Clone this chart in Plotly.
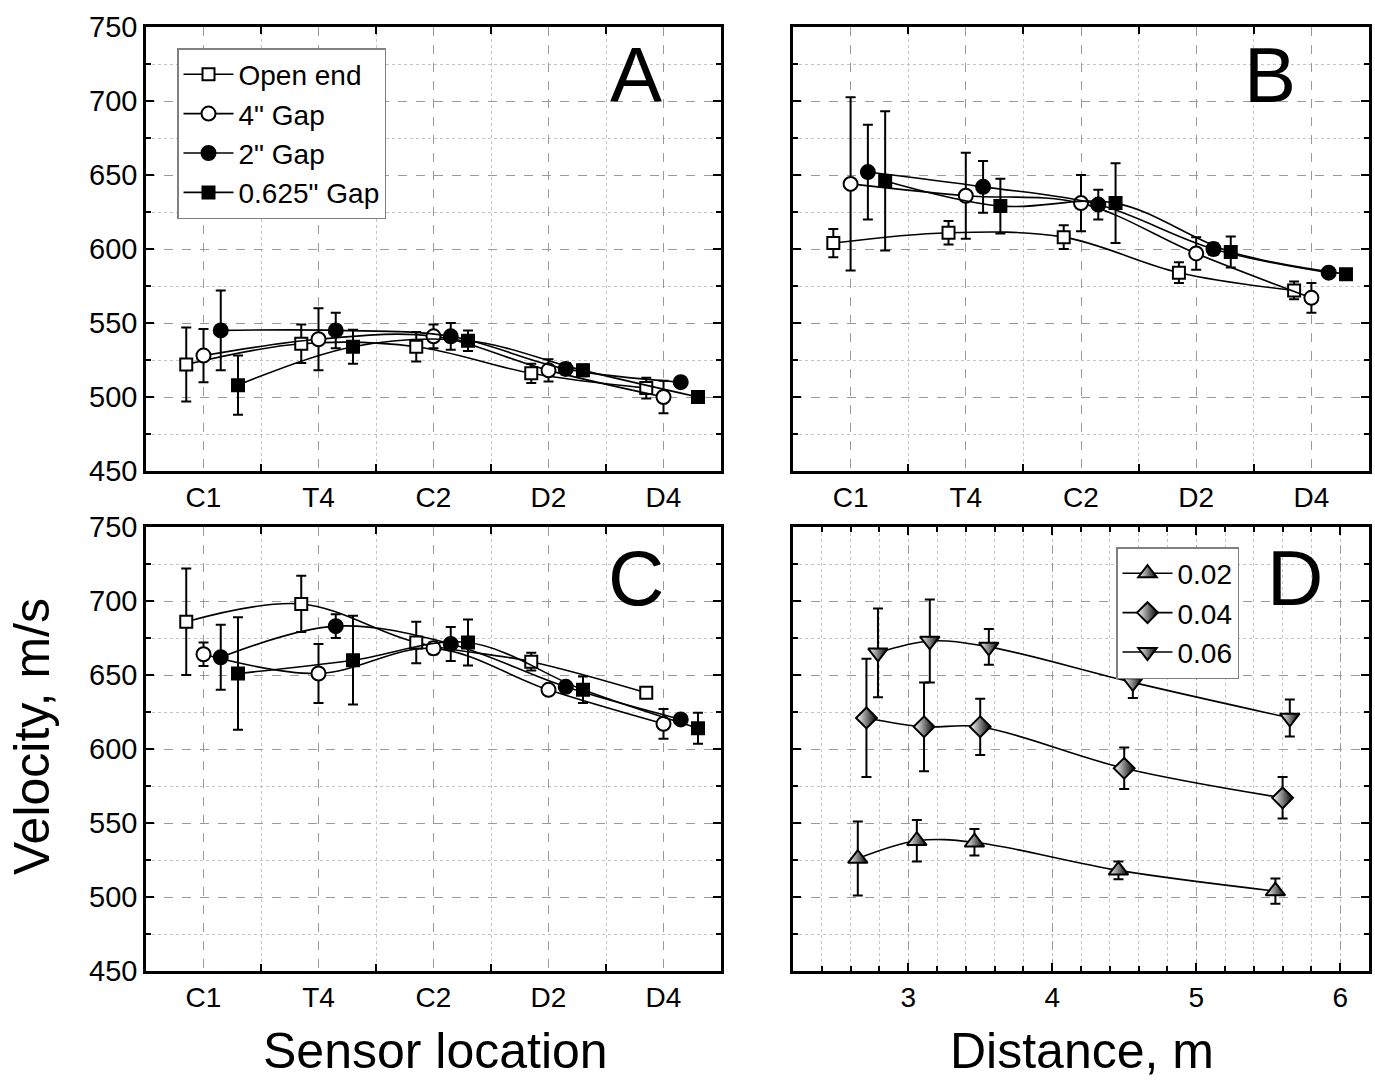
import plotly.graph_objects as go

# ---- data -------------------------------------------------------------
SENSORS = ["C1", "T4", "C2", "D2", "D4"]
SERIES = ['Open end', '4" Gap', '2" Gap', '0.625" Gap']
SERIES_SHIFT = [-0.15, 0.0, 0.15, 0.30]   # horizontal stagger of each series

# Panel A
A_OPEN = [522, 536, 534, 516, 506]
A_OPEN_ERR = [25, 13, 10, 6.5, 7]
A_GAP4 = [528, 539, 541, 518, 500]
A_GAP4_ERR = [18, 21, 8, 7.5, 11]
A_GAP2 = [545, 545, 541, 519, 510]
A_GAP2_ERR = [27, 12, 9, 4, 2]
A_GAP0625 = [508, 534, 538, 518, 500]
A_GAP0625_ERR = [20, 11.5, 7, 4, 4]

# Panel B
B_OPEN = [604, 611, 608, 584, 572]
B_OPEN_ERR = [9.5, 8, 8, 7, 6]
B_GAP4 = [644, 636, 631, 597, 567]
B_GAP4_ERR = [58.5, 29, 19, 11, 10]
B_GAP2 = [652, 642, 630, 600, 584]
B_GAP2_ERR = [32, 17.5, 10, 4, 2]
B_GAP0625 = [646, 629, 631, 598, 583]
B_GAP0625_ERR = [47, 18.5, 27, 10.5, 2]

# Panel C
C_OPEN = [686, 698, 672, 659, 638]
C_OPEN_ERR = [36, 19, 14, 6, 3]
C_GAP4 = [664, 651, 668, 640, 617]
C_GAP4_ERR = [8, 20, 4, 3, 10]
C_GAP2 = [662, 683, 671, 642, 620]
C_GAP2_ERR = [22, 8, 11.5, 3, 2]
C_GAP0625 = [651, 660, 672, 640, 614]
C_GAP0625_ERR = [38, 30, 15.5, 9, 10.5]

# Panel D (velocity vs distance)
D_LABELS = ["0.02", "0.04", "0.06"]
D_X_002 = [2.65, 3.06, 3.46, 4.46, 5.55]
D_V_002 = [526, 538, 537, 518, 504]
D_E_002 = [25, 14, 9, 6, 8.5]
D_X_004 = [2.71, 3.11, 3.50, 4.50, 5.60]
D_V_004 = [621, 615, 615, 587, 567]
D_E_004 = [40, 30, 19, 14, 14]
D_X_006 = [2.79, 3.15, 3.56, 4.56, 5.65]
D_V_006 = [665, 673, 669, 645, 621]
D_E_006 = [30, 28, 12, 10.5, 12.5]

# ---- styling ----------------------------------------------------------
FONT = "Liberation Sans, Arial, sans-serif"
W, H = 1375, 1082
SERIES_MARKERS = [
    dict(symbol="square", size=12, color="white", line=dict(color="black", width=2)),
    dict(symbol="circle", size=14, color="white", line=dict(color="black", width=2)),
    dict(symbol="circle", size=14, color="black", line=dict(color="black", width=2)),
    dict(symbol="square", size=12, color="black", line=dict(color="black", width=2)),
]
D_SYMBOLS = ["triangle-up", "diamond", "triangle-down"]
D_SIZES = [17, 16, 17]

fig = go.Figure()


def err(vals):
    return dict(type="data", array=vals, visible=True, color="black", thickness=2, width=5)


def add_category_panel(series_vals, series_errs, xa, ya, legend_on):
    x_idx = list(range(1, len(SENSORS) + 1))
    for k, (name, vals, errs) in enumerate(zip(SERIES, series_vals, series_errs)):
        fig.add_trace(go.Scatter(
            x=[i + SERIES_SHIFT[k] for i in x_idx], y=vals,
            mode="lines+markers", name=name,
            line=dict(color="black", width=1.6, shape="spline", smoothing=1.0),
            marker=SERIES_MARKERS[k], error_y=err(errs),
            xaxis=xa, yaxis=ya, showlegend=legend_on, legend="legend",
        ))


add_category_panel([A_OPEN, A_GAP4, A_GAP2, A_GAP0625],
                   [A_OPEN_ERR, A_GAP4_ERR, A_GAP2_ERR, A_GAP0625_ERR], "x", "y", True)
add_category_panel([B_OPEN, B_GAP4, B_GAP2, B_GAP0625],
                   [B_OPEN_ERR, B_GAP4_ERR, B_GAP2_ERR, B_GAP0625_ERR], "x2", "y2", False)
add_category_panel([C_OPEN, C_GAP4, C_GAP2, C_GAP0625],
                   [C_OPEN_ERR, C_GAP4_ERR, C_GAP2_ERR, C_GAP0625_ERR], "x3", "y3", False)

# half-shaded symbols for the distance panel
for lab, xs, vs, es, sym, sz in zip(D_LABELS, [D_X_002, D_X_004, D_X_006],
                                    [D_V_002, D_V_004, D_V_006],
                                    [D_E_002, D_E_004, D_E_006], D_SYMBOLS, D_SIZES):
    fig.add_trace(go.Scatter(
        x=xs, y=vs, mode="lines+markers", name=lab,
        line=dict(color="black", width=1.6, shape="spline", smoothing=1.0),
        marker=dict(symbol=sym, size=sz, color="white",
                    gradient=dict(type="horizontal", color="black"),
                    line=dict(color="black", width=2)),
        error_y=err(es), xaxis="x4", yaxis="y4", legend="legend2",
    ))

# ---- axes -------------------------------------------------------------
left_dom = [146 / W, 721 / W]
right_dom = [793 / W, 1369 / W]
top_dom = [1 - 471 / H, 1 - 27 / H]
bot_dom = [1 - 971 / H, 1 - 527 / H]

common = dict(showline=True, linecolor="black", linewidth=2.5, mirror="ticks",
              zeroline=False, ticks="inside", automargin=False,
              gridcolor="#9a9a9a", gridwidth=1, griddash="dash")

cat_x = dict(common, range=[0.5, 5.5], tickvals=list(range(1, 6)), ticktext=SENSORS,
             ticklen=0, showgrid=True,
             tickfont=dict(family=FONT, size=28, color="black"),
             minor=dict(tickvals=[1.5, 2.5, 3.5, 4.5], ticks="inside", ticklen=7,
                        tickwidth=2, tickcolor="black", showgrid=True,
                        gridcolor="#c4c4c4", griddash="dot", gridwidth=1))

vel_y = dict(common, range=[450, 750], tick0=450, dtick=50, ticklen=8, tickwidth=2,
             tickcolor="black", showgrid=True,
             tickfont=dict(family=FONT, size=29, color="black"),
             minor=dict(dtick=25, ticks="inside", ticklen=5, tickwidth=1.5,
                        tickcolor="black", showgrid=True, gridcolor="#c4c4c4",
                        griddash="dot", gridwidth=1))

dist_x = dict(common, range=[2.2, 6.2], tickvals=[3, 4, 5, 6], ticklen=8, tickwidth=2,
              tickcolor="black", showgrid=True,
              tickfont=dict(family=FONT, size=28, color="black"),
              minor=dict(tick0=2.2, dtick=0.2, ticks="inside", ticklen=5, tickwidth=1.5,
                         tickcolor="black", showgrid=True, gridcolor="#c4c4c4",
                         griddash="dot", gridwidth=1))

fig.update_layout(
    xaxis=dict(cat_x, domain=left_dom, anchor="y"),
    yaxis=dict(vel_y, domain=top_dom, anchor="x"),
    xaxis2=dict(cat_x, domain=right_dom, anchor="y2"),
    yaxis2=dict(vel_y, domain=top_dom, anchor="x2", showticklabels=False),
    xaxis3=dict(cat_x, domain=left_dom, anchor="y3"),
    yaxis3=dict(vel_y, domain=bot_dom, anchor="x3"),
    xaxis4=dict(dist_x, domain=right_dom, anchor="y4"),
    yaxis4=dict(vel_y, domain=bot_dom, anchor="x4", showticklabels=False),
)

# ---- legends ----------------------------------------------------------
legend_style = dict(bgcolor="white", bordercolor="#808080", borderwidth=1.5,
                    font=dict(family=FONT, size=28, color="black"),
                    xanchor="left", yanchor="top", itemwidth=50,
                    tracegroupgap=0)
fig.update_layout(
    legend=dict(legend_style, x=177 / W, y=1 - 48 / H),
    legend2=dict(legend_style, x=1116 / W, y=1 - 547 / H),
)

# ---- titles and panel letters -----------------------------------------
letters = [
    ("A", 636, 75), ("B", 1270, 75), ("C", 636, 578), ("D", 1295, 578),
]
for txt, px, py in letters:
    fig.add_annotation(text=txt, x=px / W, y=1 - py / H, xref="paper", yref="paper",
                       showarrow=False, xanchor="center", yanchor="middle",
                       font=dict(family=FONT, size=78, color="black"))

titles = [
    ("Sensor location", 435, 1051, 0),
    ("Distance, m", 1082, 1051, 0),
    ("Velocity, m/s", 32, 737, -90),
]
for txt, px, py, ang in titles:
    fig.add_annotation(text=txt, x=px / W, y=1 - py / H, xref="paper", yref="paper",
                       showarrow=False, xanchor="center", yanchor="middle", textangle=ang,
                       font=dict(family=FONT, size=50, color="black"))

fig.update_layout(width=W, height=H, autosize=False,
                  margin=dict(l=0, r=0, t=0, b=0, pad=0),
                  paper_bgcolor="white", plot_bgcolor="white")

fig.write_html("out.html")
